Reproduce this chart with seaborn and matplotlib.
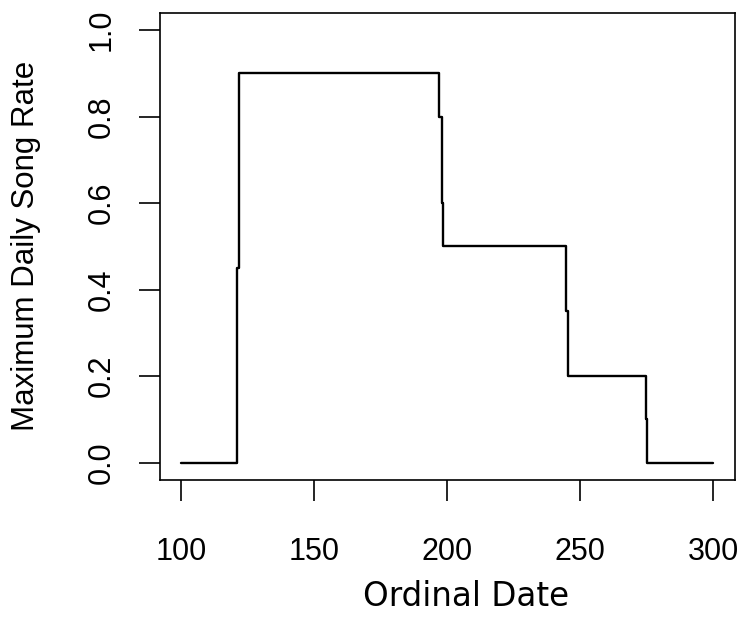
import matplotlib
matplotlib.use("Agg")
import matplotlib.pyplot as plt
import seaborn as sns
import pandas as pd

# Step breakpoints of the maximum daily song rate over the season
ordinal_date = [100, 121.1, 121.8, 196.9, 197.9, 198.5, 244.5, 245.4, 274.6, 275.2, 300]
song_rate = [0.0, 0.45, 0.9, 0.8, 0.6, 0.5, 0.35, 0.2, 0.1, 0.0, 0.0]

x_ticks = [100, 150, 200, 250, 300]
y_ticks = [0.0, 0.2, 0.4, 0.6, 0.8, 1.0]
y_tick_labels = ["0.0", "0.2", "0.4", "0.6", "0.8", "1.0"]

sns.set_style("ticks")
plt.rcParams["font.family"] = ["Liberation Sans", "DejaVu Sans"]
plt.rcParams["text.color"] = "black"
plt.rcParams["axes.labelcolor"] = "black"

df = pd.DataFrame({"date": ordinal_date, "rate": song_rate})

fig = plt.figure(figsize=(7.45, 6.34), dpi=100)
ax = fig.add_axes([159.7 / 745, 1 - 480 / 634, 575 / 745, 467.3 / 634])

sns.lineplot(data=df, x="date", y="rate", ax=ax, color="black", linewidth=1.7,
             drawstyle="steps-post", sort=False, estimator=None)

ax.set_xlim(92, 308)
ax.set_ylim(-0.04, 1.04)
ax.set_xticks(x_ticks)
ax.set_xticklabels([str(t) for t in x_ticks])
ax.set_yticks(y_ticks)
ax.set_yticklabels(y_tick_labels, rotation=90, va="center")

for side in ["top", "right", "bottom", "left"]:
    ax.spines[side].set_visible(True)
    ax.spines[side].set_linewidth(1.2)
    ax.spines[side].set_color("black")

ax.tick_params(axis="both", length=15, width=1.2, color="black",
               labelsize=22, labelcolor="black")
ax.tick_params(axis="x", pad=26)
ax.tick_params(axis="y", pad=16)

ax.set_xlabel("Ordinal Date", fontsize=23.5, family="DejaVu Sans", va="center",
              color="black")
ax.xaxis.set_label_coords((466 - 159.7) / 575, (480 - 597) / 467.3)
ax.set_ylabel("Maximum Daily Song Rate", fontsize=22.5, va="center", color="black")
ax.yaxis.set_label_coords((26 - 159.7) / 575, 0.5)

fig.savefig("out.png", dpi=100, facecolor="white")
